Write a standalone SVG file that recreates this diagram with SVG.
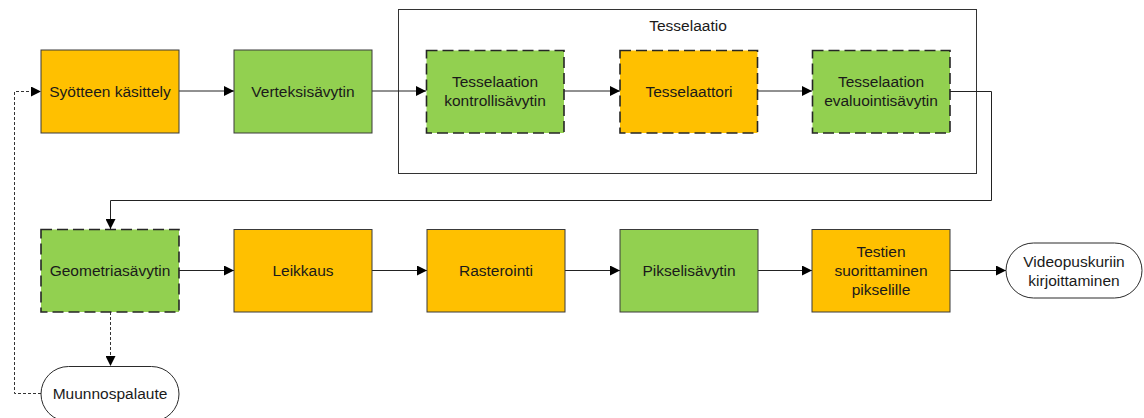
<svg xmlns="http://www.w3.org/2000/svg" width="1144" height="418" viewBox="0 0 1144 418">
  <style>
    text { font-family: "Liberation Sans", Arial, sans-serif; font-size: 15.5px; fill: #1a1a1a; text-anchor: middle; }
    .orange { fill: #FFC000; stroke: #3a3a3a; stroke-width: 1; }
    .green { fill: #92D050; stroke: #3a3a3a; stroke-width: 1; }
    .dashed { stroke: #262626; stroke-width: 1.6; stroke-dasharray: 11 5; }
    .term { fill: #ffffff; stroke: #2a2a2a; stroke-width: 1; }
    .edge { fill: none; stroke: #222222; stroke-width: 1; }
    .edge-dash { fill: none; stroke: #333333; stroke-width: 1; stroke-dasharray: 3 2; }
  </style>
  <defs>
    <marker id="arrow" viewBox="0 0 10 10" refX="10" refY="5" markerWidth="10" markerHeight="10" markerUnits="userSpaceOnUse" orient="auto">
      <path d="M0,0 L10,5 L0,10 Z" fill="#000000"/>
    </marker>
  </defs>

  <rect width="1144" height="418" fill="#ffffff"/>

  <!-- Tessellation container -->
  <g id="tesselaatio">
    <rect x="398.5" y="9.5" width="578" height="164" fill="none" stroke="#333333" stroke-width="1"/>
    <text x="688" y="31">Tesselaatio</text>
  </g>

  <!-- Connectors -->
  <g id="connectors">
    <path class="edge" d="M179,91 H234" marker-end="url(#arrow)"/>
    <path class="edge" d="M372,91 H426" marker-end="url(#arrow)"/>
    <path class="edge" d="M564,91 H620" marker-end="url(#arrow)"/>
    <path class="edge" d="M758,91 H812" marker-end="url(#arrow)"/>
    <path class="edge" d="M950,91.5 H991.5 V200.5 H110.5 V229" marker-end="url(#arrow)"/>
    <path class="edge" d="M179,270.5 H234" marker-end="url(#arrow)"/>
    <path class="edge" d="M372,270.5 H427" marker-end="url(#arrow)"/>
    <path class="edge" d="M565,270.5 H620" marker-end="url(#arrow)"/>
    <path class="edge" d="M758,270.5 H812" marker-end="url(#arrow)"/>
    <path class="edge" d="M950,270.5 H1006" marker-end="url(#arrow)"/>
    <path class="edge-dash" d="M110.5,312 V366" marker-end="url(#arrow)"/>
    <path class="edge-dash" d="M41,393.5 H14.5 V91.5 H41" marker-end="url(#arrow)"/>
  </g>

  <!-- Top row -->
  <g id="syotteen-kasittely">
    <rect class="orange" x="41" y="50" width="138" height="83"/>
    <text x="110" y="97">Syötteen käsittely</text>
  </g>
  <g id="verteksisavytin">
    <rect class="green" x="234" y="50" width="138" height="83"/>
    <text x="303" y="97">Verteksisävytin</text>
  </g>
  <g id="tesselaation-kontrollisavytin">
    <rect class="green dashed" x="426.5" y="50.5" width="137.5" height="82.5"/>
    <text x="495" y="87">Tesselaation</text>
    <text x="495" y="106">kontrollisävytin</text>
  </g>
  <g id="tesselaattori">
    <rect class="orange dashed" x="620" y="50.5" width="137.5" height="82.5"/>
    <text x="689" y="97">Tesselaattori</text>
  </g>
  <g id="tesselaation-evaluointisavytin">
    <rect class="green dashed" x="812.5" y="50.5" width="137.5" height="82.5"/>
    <text x="881" y="87">Tesselaation</text>
    <text x="881" y="106">evaluointisävytin</text>
  </g>

  <!-- Bottom row -->
  <g id="geometriasavytin">
    <rect class="green dashed" x="41" y="229.5" width="138" height="82.5"/>
    <text x="110" y="276">Geometriasävytin</text>
  </g>
  <g id="leikkaus">
    <rect class="orange" x="234" y="229.5" width="138" height="82.5"/>
    <text x="303" y="276">Leikkaus</text>
  </g>
  <g id="rasterointi">
    <rect class="orange" x="427" y="229.5" width="138" height="82.5"/>
    <text x="496" y="276">Rasterointi</text>
  </g>
  <g id="pikselisavytin">
    <rect class="green" x="620" y="229.5" width="138" height="82.5"/>
    <text x="689" y="276">Pikselisävytin</text>
  </g>
  <g id="testien-suorittaminen">
    <rect class="orange" x="812" y="229.5" width="138" height="82.5"/>
    <text x="881" y="257">Testien</text>
    <text x="881" y="276">suorittaminen</text>
    <text x="881" y="295">pikselille</text>
  </g>
  <g id="videopuskuriin-kirjoittaminen">
    <rect class="term" x="1006" y="243" width="136" height="55" rx="27.5" ry="27.5"/>
    <text x="1074" y="267">Videopuskuriin</text>
    <text x="1074" y="286">kirjoittaminen</text>
  </g>
  <g id="muunnospalaute">
    <rect class="term" x="41" y="366.5" width="138" height="55" rx="27.5" ry="27.5"/>
    <text x="110" y="399">Muunnospalaute</text>
  </g>
</svg>
